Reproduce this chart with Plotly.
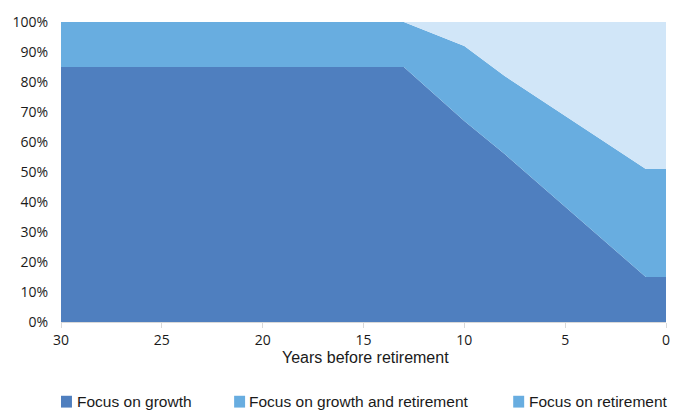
import plotly.graph_objects as go

# Years before retirement (breakpoints of the glide path)
years = [30, 13, 10, 8, 1, 0]

# Allocation shares in percent, stacked bottom to top
growth = [85, 85, 67, 56, 15, 15]
growth_and_retirement = [15, 15, 25, 26, 36, 36]
retirement = [0, 0, 8, 18, 49, 49]

series_names = ["Focus on growth", "Focus on growth and retirement", "Focus on retirement"]
fill_colors = ["#4F7FBF", "#68ADE0", "#D1E6F8"]
legend_colors = ["#4F7FBF", "#68ADE0", "#68ADE0"]

x_ticks = [30, 25, 20, 15, 10, 5, 0]
y_ticks = list(range(0, 101, 10))

W, H = 682, 414
L, R, T, B = 61, 14, 17, 92
PW, PH = W - L - R, H - T - B


def px_x(px):
    return (px - L) / PW


def px_y(py):
    return (H - B - py) / PH


fig = go.Figure()
for name, vals, col in zip(series_names, [growth, growth_and_retirement, retirement], fill_colors):
    fig.add_trace(go.Scatter(
        x=years, y=vals, name=name, stackgroup="one",
        mode="lines", line=dict(width=0, color=col),
        fillcolor=col, showlegend=False, hoverinfo="x+y+name",
    ))

tick_font = dict(family="Open Sans", size=14, color="#1a1a1a")
title_font = dict(family="Liberation Sans, Arial, sans-serif", size=16, color="#1a1a1a")
legend_font = dict(family="Liberation Sans, Arial, sans-serif", size=15.5, color="#1a1a1a")

fig.update_xaxes(
    range=[30, 0], tickvals=x_ticks, ticktext=[str(v) for v in x_ticks],
    showgrid=False, zeroline=False, showline=True, linecolor="#D9D9D9", linewidth=1,
    ticks="outside", ticklen=5, tickcolor="#D9D9D9", tickfont=tick_font,
)
fig.update_yaxes(
    range=[0, 100], tickvals=y_ticks, ticktext=[f"{v}%" for v in y_ticks],
    showgrid=False, zeroline=False, showline=False, ticks="",
    tickfont=tick_font, ticklabelstandoff=12,
)

# Axis title
fig.add_annotation(
    text="Years before retirement", xref="paper", yref="paper",
    x=px_x(367), y=px_y(358), xanchor="center", yanchor="middle",
    showarrow=False, font=title_font,
)

# Legend row: swatches and labels
legend_marker_x = [61, 234.7, 514.7]
legend_text_x = [75, 248, 529]
for name, col, mx, tx in zip(series_names, legend_colors, legend_marker_x, legend_text_x):
    fig.add_shape(
        type="rect", xref="paper", yref="paper",
        x0=px_x(mx), x1=px_x(mx + 11), y0=px_y(409), y1=px_y(397),
        fillcolor=col, line=dict(width=0),
    )
    fig.add_annotation(
        text=name, xref="paper", yref="paper",
        x=px_x(tx), y=px_y(403), xanchor="left", yanchor="middle",
        showarrow=False, font=legend_font,
    )

fig.update_layout(
    width=W, height=H, autosize=False,
    margin=dict(l=L, r=R, t=T, b=B),
    paper_bgcolor="white", plot_bgcolor="white",
    showlegend=False,
)

fig.write_html("out.html")
